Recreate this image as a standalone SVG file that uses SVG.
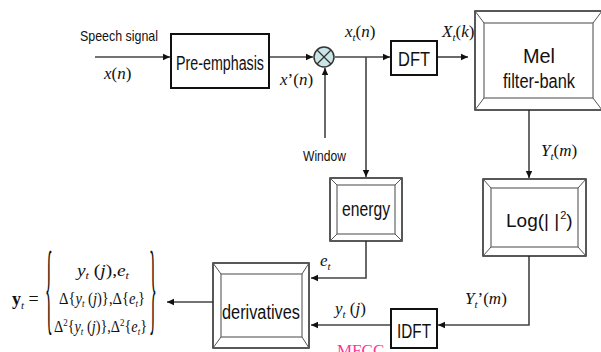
<svg xmlns="http://www.w3.org/2000/svg" width="601" height="352" viewBox="0 0 601 352">
<defs>
<marker id="ah" markerWidth="8" markerHeight="8" refX="7" refY="4" orient="auto" markerUnits="userSpaceOnUse">
<path d="M0,0.8 L7,4 L0,7.2 Z" fill="#111"/>
</marker>
<style>
.ln{stroke:#444;stroke-width:1.6;fill:none}
.box{fill:#fff;stroke:#111;stroke-width:2}
.bo{fill:#fff;stroke:#222;stroke-width:1.5}
.bi{fill:#fff;stroke:#666;stroke-width:1.2}
.bv{stroke:#555;stroke-width:1}
.lbl{font-family:"Liberation Sans",Arial,sans-serif;fill:#111}
.m{font-family:"Liberation Serif","Times New Roman",serif;font-style:italic;fill:#111}
.r{font-family:"Liberation Serif","Times New Roman",serif;fill:#111}
</style>
</defs>
<rect width="601" height="352" fill="#fff"/>

<g id="connectors">
<line class="ln" x1="95" y1="57" x2="170" y2="57" marker-end="url(#ah)"/>
<line class="ln" x1="269" y1="57" x2="313" y2="57" marker-end="url(#ah)"/>
<line class="ln" x1="325" y1="138" x2="325" y2="68" marker-end="url(#ah)"/>
<line class="ln" x1="335" y1="57" x2="390" y2="57" marker-end="url(#ah)"/>
<line class="ln" x1="366" y1="57" x2="366" y2="177" marker-end="url(#ah)"/>
<line class="ln" x1="437" y1="57" x2="468" y2="57" marker-end="url(#ah)"/>
<line class="ln" x1="529" y1="110" x2="529" y2="178" marker-end="url(#ah)"/>
<polyline class="ln" points="366,241 366,278 311,278" marker-end="url(#ah)"/>
<polyline class="ln" points="529,256 529,325 438,325" marker-end="url(#ah)"/>
<line class="ln" x1="391" y1="325" x2="311" y2="325" marker-end="url(#ah)"/>
<line class="ln" x1="213" y1="302" x2="167" y2="302" marker-end="url(#ah)"/>
</g>

<g id="speech-input">
<text class="lbl" x="80" y="41" font-size="15" textLength="78" lengthAdjust="spacingAndGlyphs">Speech signal</text>
<text class="m" x="104" y="79" font-size="17">x<tspan font-style="normal">(</tspan>n<tspan font-style="normal">)</tspan></text>
</g>

<g id="pre-emphasis">
<rect class="box" x="171" y="34" width="98" height="54"/>
<text class="lbl" x="220" y="70" font-size="20" text-anchor="middle" textLength="88" lengthAdjust="spacingAndGlyphs">Pre-emphasis</text>
<text class="m" x="280" y="85" font-size="17">x<tspan font-style="normal">’(</tspan>n<tspan font-style="normal">)</tspan></text>
</g>

<g id="multiplier">
<circle cx="324" cy="57" r="10" fill="#c9e5e6" stroke="#333" stroke-width="1.5"/>
<line x1="317" y1="50" x2="331" y2="64" stroke="#333" stroke-width="1.3"/>
<line x1="331" y1="50" x2="317" y2="64" stroke="#333" stroke-width="1.3"/>
<text class="lbl" x="303" y="161" font-size="14" textLength="43" lengthAdjust="spacingAndGlyphs">Window</text>
<text class="m" x="345" y="37" font-size="17">x<tspan font-size="11" dy="4">t</tspan><tspan font-style="normal" dy="-4">(</tspan>n<tspan font-style="normal">)</tspan></text>
</g>

<g id="dft">
<rect class="box" x="391" y="41" width="46" height="34"/>
<text class="lbl" x="414" y="66" font-size="20" text-anchor="middle" textLength="32" lengthAdjust="spacingAndGlyphs">DFT</text>
<text class="m" x="442" y="37" font-size="17">X<tspan font-size="11" dy="4">t</tspan><tspan font-style="normal" dy="-4">(</tspan>k<tspan font-style="normal">)</tspan></text>
</g>

<g id="mel">
<rect class="bo" x="475" y="11" width="127" height="99"/>
<rect class="bi" x="484" y="23" width="109" height="75"/>
<path class="bv" d="M475,11 L484,23 M602,11 L593,23 M475,110 L484,98 M602,110 L593,98"/>
<text class="lbl" x="539" y="63" font-size="20" text-anchor="middle" textLength="32" lengthAdjust="spacingAndGlyphs">Mel</text>
<text class="lbl" x="539" y="88" font-size="20" text-anchor="middle" textLength="72" lengthAdjust="spacingAndGlyphs">filter-bank</text>
<text class="m" x="541" y="156" font-size="17">Y<tspan font-size="11" dy="4">t</tspan><tspan font-style="normal" dy="-4">(</tspan>m<tspan font-style="normal">)</tspan></text>
</g>

<g id="energy">
<rect class="bo" x="330" y="178" width="72" height="63"/>
<rect class="bi" x="337" y="185" width="58" height="49"/>
<path class="bv" d="M330,178 L337,185 M402,178 L395,185 M330,241 L337,234 M402,241 L395,234"/>
<text class="lbl" x="366" y="216" font-size="20" text-anchor="middle" textLength="48" lengthAdjust="spacingAndGlyphs">energy</text>
<text class="m" x="320" y="266" font-size="17">e<tspan font-size="11" dy="4">t</tspan></text>
</g>

<g id="log">
<rect class="bo" x="483" y="179" width="103" height="77"/>
<rect class="bi" x="491" y="188" width="87" height="59"/>
<path class="bv" d="M483,179 L491,188 M586,179 L578,188 M483,256 L491,247 M586,256 L578,247"/>
<text class="lbl" x="506" y="227" font-size="19">Log(| |<tspan font-size="11" dy="-8" dx="1">2</tspan><tspan dy="8">)</tspan></text>
<text class="m" x="465" y="304" font-size="17">Y<tspan font-size="11" dy="4">t</tspan><tspan font-style="normal" dy="-4">’(</tspan>m<tspan font-style="normal">)</tspan></text>
</g>

<g id="idft">
<rect class="box" x="391" y="309" width="46" height="39"/>
<text class="lbl" x="414" y="338" font-size="20" text-anchor="middle" textLength="34" lengthAdjust="spacingAndGlyphs">IDFT</text>
<text class="m" x="335" y="314" font-size="17">y<tspan font-size="11" dy="4">t</tspan><tspan font-style="normal" dy="-4"> (</tspan>j<tspan font-style="normal">)</tspan></text>
<text x="337" y="356" font-size="17" fill="#ff3399" font-family="Liberation Serif,serif">MFCC</text>
</g>

<g id="derivatives">
<rect class="bo" x="213" y="263" width="96" height="85"/>
<rect class="bi" x="221" y="274" width="81" height="63"/>
<path class="bv" d="M213,263 L221,274 M309,263 L302,274 M213,348 L221,337 M309,348 L302,337"/>
<text class="lbl" x="261" y="319" font-size="20" text-anchor="middle" textLength="78" lengthAdjust="spacingAndGlyphs">derivatives</text>
</g>

<g id="formula">
<text class="r" x="12" y="305" font-size="18" font-weight="bold">y<tspan font-size="11" font-style="italic" font-weight="normal" dy="4">t</tspan><tspan font-weight="normal" dy="-4"> =</tspan></text>
<text class="r" x="0" y="0" font-size="18" transform="translate(45,321) scale(0.9,5.6)">{</text>
<text class="r" x="0" y="0" font-size="18" transform="translate(149,321) scale(0.9,5.6)">}</text>
<text class="m" x="77" y="276" font-size="16" textLength="52" lengthAdjust="spacingAndGlyphs">y<tspan font-size="10" dy="3">t</tspan><tspan font-style="normal" dy="-3"> (</tspan>j<tspan font-style="normal">),</tspan>e<tspan font-size="10" dy="3">t</tspan></text>
<text class="r" x="59" y="304" font-size="16" textLength="86" lengthAdjust="spacingAndGlyphs">Δ{<tspan font-style="italic">y</tspan><tspan font-size="10" font-style="italic" dy="3">t</tspan><tspan dy="-3"> (</tspan><tspan font-style="italic">j</tspan>)},Δ{<tspan font-style="italic">e</tspan><tspan font-size="10" font-style="italic" dy="3">t</tspan><tspan dy="-3">}</tspan></text>
<text class="r" x="54" y="332" font-size="16" textLength="93" lengthAdjust="spacingAndGlyphs">Δ<tspan font-size="10" dy="-6">2</tspan><tspan dy="6">{</tspan><tspan font-style="italic">y</tspan><tspan font-size="10" font-style="italic" dy="3">t</tspan><tspan dy="-3"> (</tspan><tspan font-style="italic">j</tspan>)},Δ<tspan font-size="10" dy="-6">2</tspan><tspan dy="6">{</tspan><tspan font-style="italic">e</tspan><tspan font-size="10" font-style="italic" dy="3">t</tspan><tspan dy="-3">}</tspan></text>
</g>
</svg>
